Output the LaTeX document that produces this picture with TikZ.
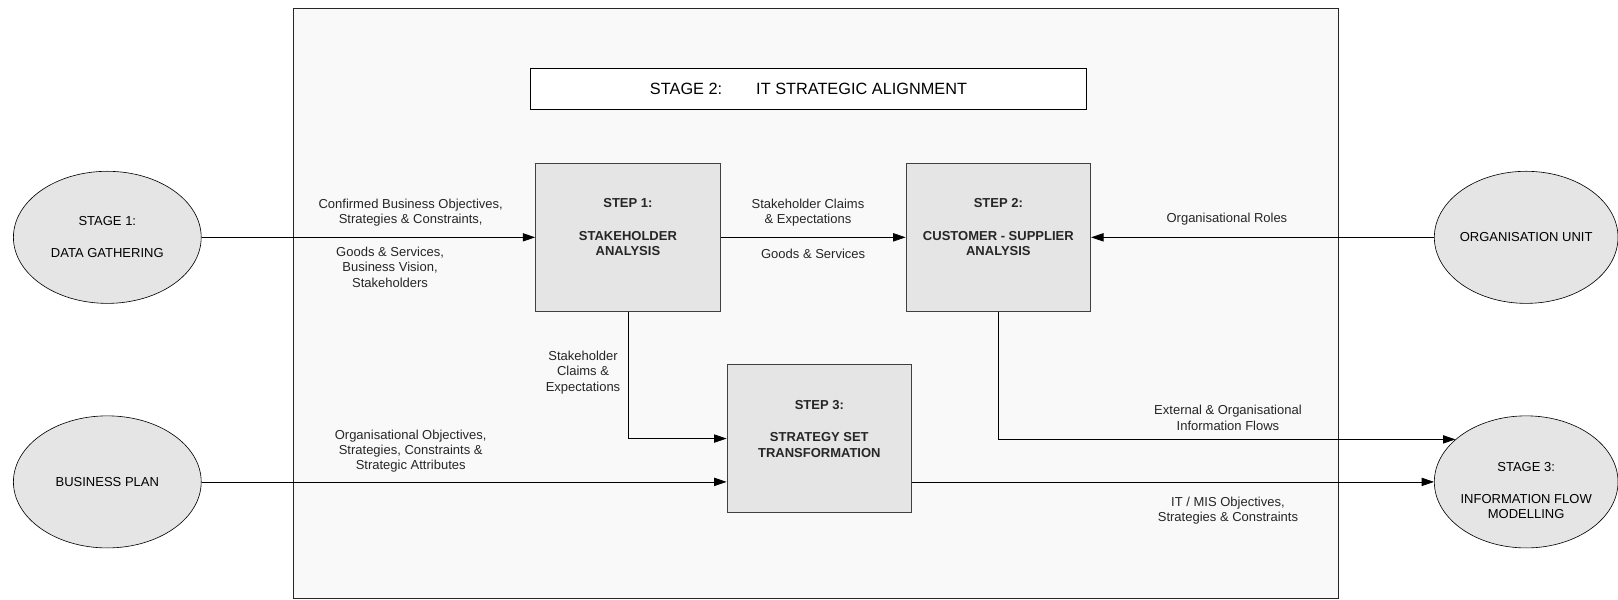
\documentclass[tikz,border=0pt]{standalone}
\usepackage{fontspec}
\setmainfont{Liberation Sans}
\usetikzlibrary{arrows.meta,shapes.geometric}
\definecolor{boxgray}{gray}{0.9}
\definecolor{panelgray}{gray}{0.975}
\newcommand\txtsize{\fontsize{12.6}{14.8}\selectfont}
\tikzset{
	stepbox/.style={draw=black!75, fill=boxgray, line width=0.8pt, minimum width=179pt, minimum height=144pt, align=center, font=\txtsize\bfseries, text=black!85},
	stagenode/.style={ellipse, draw, fill=boxgray, line width=0.6pt, minimum width=182pt, minimum height=128pt, inner xsep=-6pt, align=center, font=\txtsize},
	flowlabel/.style={align=center, font=\txtsize, inner sep=0pt, text=black!85},
	flow/.style={line width=0.7pt, -{Triangle[length=12pt,width=8pt]}}
}

\begin{document}
\begin{tikzpicture}[x=1pt,y=-1pt]
			%%%%% START %%%%%
			\useasboundingbox (0,0) rectangle (1568,581);
			
			% stage 2 panel
			\draw[fill=panelgray, draw=black!85, line width=0.8pt] (284,8) rectangle (1297,580);
			\node[draw, fill=white, line width=0.6pt, minimum width=539pt, minimum height=40pt, font=\fontsize{15.8}{18}\selectfont] (title) at (783.5,86) {STAGE 2:\hspace{33pt}IT STRATEGIC ALIGNMENT};
			
			% stages
			\node[stagenode] (stage1) at (104,230) {STAGE 1:\\[16pt]DATA GATHERING};
			\node[stagenode] (bplan) at (104,467) {BUSINESS PLAN};
			\node[stagenode, minimum width=178pt] (orgunit) at (1479,230) {ORGANISATION UNIT};
			\node[stagenode, minimum width=178pt] (stage3) at (1479,467) {\strut\\STAGE 3:\\[16pt]INFORMATION FLOW\\MODELLING};
			
			% steps
			\node[stepbox] (step1) at (608.5,230) {STEP 1:\\[17pt]STAKEHOLDER\\ANALYSIS\\\strut};
			\node[stepbox] (step2) at (967.5,230) {STEP 2:\\[17pt]CUSTOMER - SUPPLIER\\ANALYSIS\\\strut};
			\node[stepbox] (step3) at (794,425) {STEP 3:\\[17pt]STRATEGY SET\\TRANSFORMATION\\\strut};
			
			% flows
			\draw[flow] (stage1) -- (step1);
			\draw[flow] (step1) -- (step2);
			\draw[flow] (orgunit) -- (step2);
			\draw[flow] (step1.south) |- (step3.west);
			\draw[flow] (step2.south) |- (stage3.149);
			\draw[flow] (bplan) -- (bplan -| step3.west);
			\draw[flow] (step3.east |- stage3) -- (stage3);
			
			% flow labels
			\node[flowlabel] (lconf) at (398,206) {Confirmed Business Objectives,\\Strategies \& Constraints,};
			\node[flowlabel] (lgoods) at (378,259) {Goods \& Services,\\Business Vision,\\Stakeholders};
			\node[flowlabel] (lclaims) at (783,206) {Stakeholder Claims\\\& Expectations};
			\node[flowlabel] (lgs) at (788,246) {Goods \& Services};
			\node[flowlabel] (lroles) at (1189,212) {Organisational Roles};
			\node[flowlabel] (lclaims2) at (565,361) {Stakeholder\\Claims \&\\Expectations};
			\node[flowlabel] (lorgobj) at (398,437) {Organisational Objectives,\\Strategies, Constraints \&\\Strategic Attributes};
			\node[flowlabel] (lext) at (1190,405) {External \& Organisational\\Information Flows};
			\node[flowlabel] (lmis) at (1190,495) {IT / MIS Objectives,\\Strategies \& Constraints};
			
			%%%%% END %%%%%
\end{tikzpicture}
\end{document}
